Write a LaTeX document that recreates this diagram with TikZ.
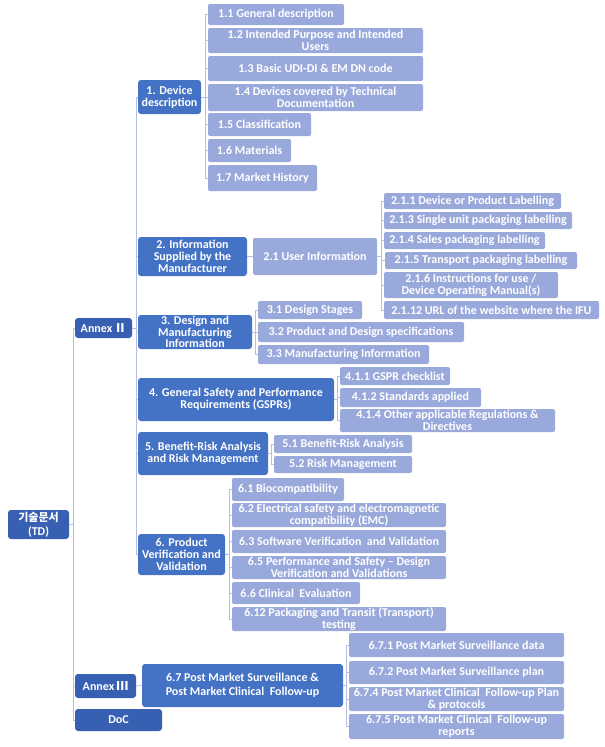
\documentclass[tikz,border=0pt]{standalone}
\usepackage{fontspec}
\setmainfont{Carlito}
\newfontfamily\kr{Noto Sans CJK KR}
\definecolor{dkA}{RGB}{68,114,196}
\definecolor{dkB}{RGB}{56,96,178}
\definecolor{ltA}{RGB}{154,169,219}
\definecolor{lnA}{RGB}{178,190,228}
\tikzset{
  base/.style={rounded corners=2pt, inner sep=0pt, align=center, text=white,
    font=\fontsize{12}{11.8}\selectfont\bfseries},
  dk/.style={base, fill=dkA, rounded corners=3pt},
  dkb/.style={base, fill=dkB, rounded corners=3pt},
  lt/.style={base, fill=ltA},
  ln/.style={draw=lnA, line width=0.8pt}
}
\newcommand{\bx}[7]{\node[#1, minimum width={#5-#3}, minimum height={#6-#4}] (#2) at ({(#3+#5)/2},{(#4+#6)/2}) {#7};}
\newcommand{\brk}[3]{\foreach \c in {#3} {\draw[ln] (#1.east) -- ++(#2,0) |- (\c.west);}}
\begin{document}
\begin{tikzpicture}[x=1pt,y=-1pt]
\useasboundingbox (0,0) rectangle (605,747);
% level 0
\bx{dkb}{td}{8}{510}{69}{539}{{\kr\fontsize{11}{12}\selectfont 기술문서}\\[2pt](TD)}
% level 1
\bx{dkb}{a2}{75}{318}{132}{338}{Annex\,{\kr Ⅱ}}
\bx{dkb}{a3}{75}{674}{136}{698}{Annex\,{\kr Ⅲ}}
\bx{dkb}{doc}{75}{709}{162}{731}{DoC}
% level 2
\bx{dk}{d1}{138}{80}{201}{114}{1. Device\\description}
\bx{dk}{d2}{138}{237}{247}{276}{2. Information\\Supplied by the\\Manufacturer}
\bx{dk}{d3}{138}{315}{252}{349}{3. Design and\\Manufacturing\\Information}
\bx{dk}{d4}{138}{378}{334}{421}{4. General Safety and Performance\\Requirements (GSPRs)}
\bx{dk}{d5}{138}{432}{268}{475}{5. Benefit-Risk Analysis\\and Risk Management}
\bx{dk}{d6}{138}{534}{225}{575}{6. Product\\Verification and\\Validation}
\bx{dk}{d67}{142}{664}{343}{707}{6.7 Post Market Surveillance \&\\[2pt]Post Market Clinical\ \ Follow-up}
% section 1
\bx{lt}{s11}{208}{4}{344}{25}{1.1 General description}
\bx{lt}{s12}{208}{28}{423}{53}{1.2 Intended Purpose and Intended\\Users}
\bx{lt}{s13}{208}{56}{423}{81}{1.3 Basic UDI-DI \& EM DN code}
\bx{lt}{s14}{208}{84}{423}{111}{1.4 Devices covered by Technical\\Documentation}
\bx{lt}{s15}{208}{113}{311}{136}{1.5 Classification}
\bx{lt}{s16}{208}{139}{291}{162}{1.6 Materials}
\bx{lt}{s17}{208}{165}{317}{191}{1.7 Market History}
% section 2
\bx{lt}{s21}{253}{238}{377}{275}{2.1 User Information}
\bx{lt}{s211}{384}{193}{561}{209}{2.1.1 Device or Product Labelling}
\bx{lt}{s213}{384}{212}{572}{229}{2.1.3 Single unit packaging labelling}
\bx{lt}{s214}{384}{232}{545}{249}{2.1.4 Sales packaging labelling}
\bx{lt}{s215}{385}{252}{577}{269}{2.1.5 Transport packaging labelling}
\bx{lt}{s216}{384}{272}{558}{298}{2.1.6 Instructions for use /\\Device Operating Manual(s)}
\bx{lt}{s2112}{384}{301}{599}{319}{2.1.12 URL of the website where the IFU}
% section 3
\bx{lt}{s31}{258}{301}{362}{319}{3.1 Design Stages}
\bx{lt}{s32}{258}{322}{464}{342}{3.2 Product and Design specifications}
\bx{lt}{s33}{258}{345}{429}{364}{3.3 Manufacturing Information}
% section 4
\bx{lt}{s411}{340}{367}{450}{385}{4.1.1 GSPR checklist}
\bx{lt}{s412}{340}{388}{481}{407}{4.1.2 Standards applied}
\bx{lt}{s414}{340}{409}{555}{432}{4.1.4 Other applicable Regulations \&\\Directives}
% section 5
\bx{lt}{s51}{274}{435}{412}{453}{5.1 Benefit-Risk Analysis}
\bx{lt}{s52}{274}{456}{412}{473}{5.2 Risk Management}
% section 6
\bx{lt}{s61}{232}{478}{344}{501}{6.1 Biocompatibility}
\bx{lt}{s62}{232}{503}{446}{527}{6.2 Electrical safety and electromagnetic\\compatibility (EMC)}
\bx{lt}{s63}{232}{530}{446}{553}{6.3 Software Verification\ \ and Validation}
\bx{lt}{s65}{232}{556}{446}{579}{6.5 Performance and Safety – Design\\Verification and Validations}
\bx{lt}{s66}{232}{582}{360}{604}{6.6 Clinical\ \ Evaluation}
\bx{lt}{s612}{232}{607}{446}{631}{6.12 Packaging and Transit (Transport)\\testing}
% section 6.7
\bx{lt}{s671}{349}{633}{564}{657}{6.7.1 Post Market Surveillance data}
\bx{lt}{s672}{349}{661}{564}{684}{6.7.2 Post Market Surveillance plan}
\bx{lt}{s674}{349}{687}{564}{711}{6.7.4 Post Market Clinical\ \ Follow-up Plan\\\& protocols}
\bx{lt}{s675}{349}{714}{564}{739}{6.7.5 Post Market Clinical\ \ Follow-up\\reports}
% connectors
\brk{td}{4}{a2,a3,doc}
\brk{a2}{4}{d1,d2,d3,d4,d5,d6}
\brk{d1}{4}{s11,s12,s13,s14,s15,s16,s17}
\draw[ln] (d2.east) -- (s21.west);
\brk{s21}{4}{s211,s213,s214,s215,s216,s2112}
\brk{d3}{3}{s31,s32,s33}
\brk{d4}{3}{s411,s412,s414}
\brk{d5}{3}{s51,s52}
\brk{d6}{4}{s61,s62,s63,s65,s66,s612}
\draw[ln] (a3.east) -- (d67.west);
\brk{d67}{3}{s671,s672,s674,s675}
\end{tikzpicture}
\end{document}
